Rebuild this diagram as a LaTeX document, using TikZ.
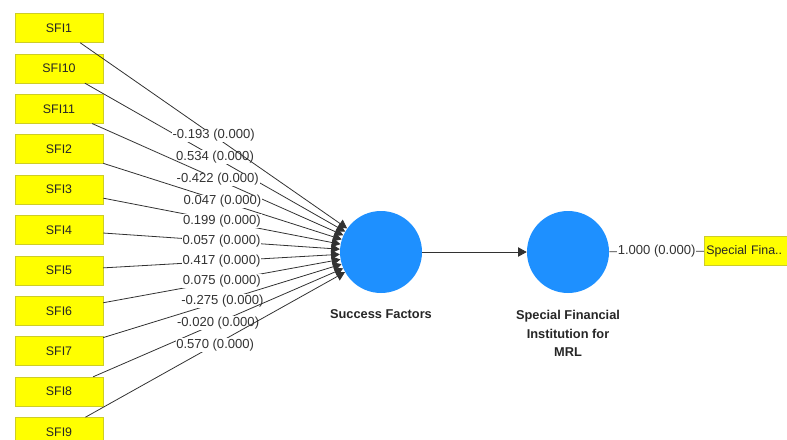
\documentclass[tikz,border=0pt]{standalone}
\usepackage{fontspec}
\setmainfont{Liberation Sans}
\usetikzlibrary{arrows.meta}
\usetikzlibrary{positioning}

\definecolor{indyellow}{RGB}{255,255,0}
\definecolor{indborder}{RGB}{205,205,40}
\definecolor{lvblue}{RGB}{30,144,255}
\definecolor{pathgray}{RGB}{50,50,50}

\tikzset{
  indicator/.style={draw=indborder, fill=indyellow, minimum width=66pt, minimum height=21.75pt, inner sep=0pt, font=\fontsize{9.3}{11}\selectfont, text=black!85},
  latent/.style={circle, fill=lvblue, minimum size=61.5pt, inner sep=0pt},
  lvname/.style={font=\fontsize{9.6}{14}\selectfont\bfseries, align=center, inner sep=0pt, text=black!85},
  weight/.style={fill=white, inner sep=0.6pt, font=\fontsize{9.8}{11}\selectfont, text=black!80},
  pathline/.style={draw=pathgray, line width=0.6pt},
}

\begin{document}
\begin{tikzpicture}[>={Triangle[length=6.5pt,width=7pt]}, x=0.75pt, y=-0.75pt]

    \clip (0,0) rectangle (787,439);

    % latent variables
    \node[latent] (sf) at (381,252) {};
    \node[latent] (sfimrl) at (568,252) {};
    \node[lvname, below=12pt of sf] (sflabel) {Success Factors};
    \node[lvname, below=12.5pt of sfimrl] (sfimrllabel) {Special Financial\\Institution for\\MRL};

    % indicators
    \node[indicator] (sfi1) at (59,28) {SFI1};
    \node[indicator] (sfi10) at (59,68.4) {SFI10};
    \node[indicator] (sfi11) at (59,108.8) {SFI11};
    \node[indicator] (sfi2) at (59,149.2) {SFI2};
    \node[indicator] (sfi3) at (59,189.6) {SFI3};
    \node[indicator] (sfi4) at (59,230) {SFI4};
    \node[indicator] (sfi5) at (59,270.4) {SFI5};
    \node[indicator] (sfi6) at (59,310.8) {SFI6};
    \node[indicator] (sfi7) at (59,351.2) {SFI7};
    \node[indicator] (sfi8) at (59,391.6) {SFI8};
    \node[indicator] (sfi9) at (59,432) {SFI9};
    \node[indicator, anchor=west, text width=63pt, inner xsep=1.5pt, align=left] (sfiind) at (704,251) {Special Fina..};

    % outer weights
    \draw[->, pathline] (sfi10) -- node[weight]{0.534 (0.000)} (sf);
    \draw[->, pathline] (sfi11) -- node[weight]{-0.422 (0.000)} (sf);
    \draw[->, pathline] (sfi1) -- node[weight]{-0.193 (0.000)} (sf);
    \draw[->, pathline] (sfi2) -- node[weight]{0.047 (0.000)} (sf);
    \draw[->, pathline] (sfi3) -- node[weight]{0.199 (0.000)} (sf);
    \draw[->, pathline] (sfi4) -- node[weight]{0.057 (0.000)} (sf);
    \draw[->, pathline] (sfi5) -- node[weight]{0.417 (0.000)} (sf);
    \draw[->, pathline] (sfi6) -- node[weight]{0.075 (0.000)} (sf);
    \draw[->, pathline] (sfi7) -- node[weight]{-0.275 (0.000)} (sf);
    \draw[->, pathline] (sfi8) -- node[weight]{-0.020 (0.000)} (sf);
    \draw[->, pathline] (sfi9) -- node[weight]{0.570 (0.000)} (sf);

    \draw[->, pathline] (sf) -- (sfimrl);
    \draw[pathline] (sfimrl) -- node[weight]{1.000 (0.000)} (sfiind);

\end{tikzpicture}
\end{document}
